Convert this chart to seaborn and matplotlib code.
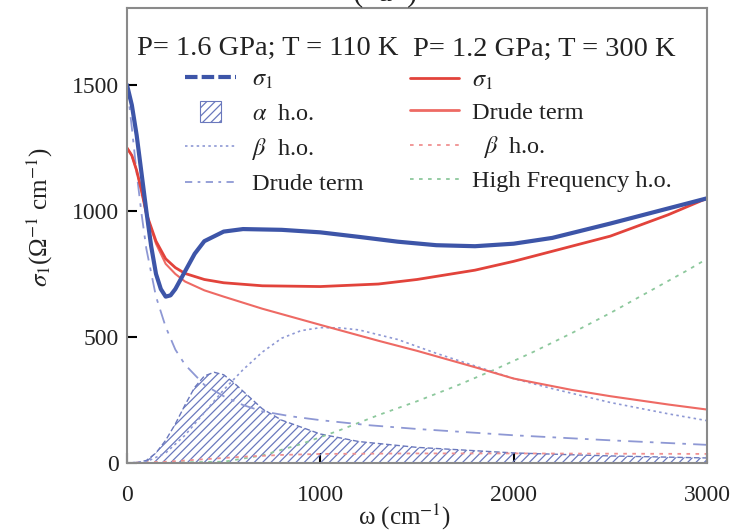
import numpy as np
import pandas as pd
import matplotlib
matplotlib.use("Agg")
import matplotlib.pyplot as plt
import seaborn as sns
from matplotlib.lines import Line2D
from matplotlib.patches import Patch, Rectangle
from matplotlib.legend_handler import HandlerPatch

# ---------------- data ----------------
x_b_s1 = [0, 25, 50, 75, 100, 125, 150, 175, 200, 225, 250, 300, 350, 400, 500, 600,
          800, 1000, 1200, 1400, 1600, 1800, 2000, 2200, 2500, 2800, 3000]
y_b_s1 = [1500, 1420, 1300, 1150, 1000, 860, 750, 690, 660, 665, 690, 760, 830, 880, 918, 928,
          925, 915, 897, 878, 864, 860, 870, 893, 950, 1010, 1050]

x_b_alpha = [0, 50, 100, 150, 200, 250, 300, 350, 400, 450, 500, 550, 600, 700, 800, 1000,
             1200, 1500, 2000, 2500, 3000]
y_b_alpha = [0, 2, 10, 40, 90, 155, 230, 300, 345, 360, 350, 320, 285, 215, 170, 115,
             85, 62, 40, 28, 20]

x_b_beta = [0, 100, 200, 300, 400, 500, 600, 700, 800, 900, 1000, 1100, 1200, 1400, 1600,
            1800, 2000, 2200, 2500, 2800, 3000]
y_b_beta = [0, 5, 40, 110, 200, 290, 370, 440, 495, 525, 537, 536, 528, 490, 435,
            385, 335, 295, 240, 195, 168]

x_b_drude = [0, 25, 50, 75, 100, 150, 200, 250, 300, 400, 500, 600, 700, 850, 1000, 1250,
             1500, 2000, 2500, 3000]
y_b_drude = [1500, 1330, 1150, 990, 850, 660, 540, 450, 390, 310, 265, 230, 205, 185, 170, 150,
             135, 110, 90, 72]

x_r = [0, 25, 50, 75, 100, 150, 200, 250, 300, 400, 500, 700, 1000, 1300, 1500, 1800,
       2000, 2300, 2500, 2800, 3000]
y_r_s1 = [1250, 1220, 1160, 1080, 990, 880, 810, 775, 752, 728, 715, 703, 700, 710, 728, 765,
          800, 860, 900, 985, 1050]
y_r_drude = [1250, 1220, 1160, 1080, 990, 870, 790, 750, 720, 685, 660, 612, 548, 485, 445, 380,
             335, 290, 265, 232, 212]

x_r_beta = [0, 200, 400, 600, 800, 1000, 1500, 2000, 2500, 3000]
y_r_beta = [0, 5, 15, 25, 32, 36, 38, 38, 37, 36]

x_r_hf = [0, 500, 700, 900, 1100, 1300, 1500, 1700, 1900, 2100, 2300, 2500, 2700, 2900, 3000]
y_r_hf = [0, 5, 30, 75, 130, 190, 245, 305, 370, 440, 515, 595, 680, 765, 810]

title_left = "P= 1.6 GPa; T = 110 K"
title_right = "P= 1.2 GPa; T = 300 K"
labels_left = [r"$\sigma_1$", r"$\alpha$  h.o.", r"$\beta$  h.o.", "Drude term"]
labels_right = [r"$\sigma_1$", "Drude term", r"  $\beta$  h.o.", "High Frequency h.o."]
x_ticks = [0, 1000, 2000, 3000]
y_ticks = [0, 500, 1000, 1500]

# ---------------- style ----------------
sns.set_theme(style="white")
plt.rcParams["font.family"] = ["Liberation Serif", "DejaVu Serif"]
plt.rcParams["mathtext.fontset"] = "stix"

c_blue = "#3d55a8"
c_blue_l = "#8e98d4"
c_hatch = "#6a78bd"
c_red = "#e2433b"
c_red_l = "#ee6a64"
c_red_dot = "#f09090"
c_green = "#8cc89c"
c_text = "#222222"

fig = plt.figure(figsize=(7.35, 5.32), dpi=100)
ax = fig.add_axes([127 / 735, 69 / 532, 580 / 735, 455 / 532])

# hatched alpha oscillator
plt.rcParams["hatch.color"] = c_hatch
plt.rcParams["hatch.linewidth"] = 0.9
ax.fill_between(x_b_alpha, 0, y_b_alpha, facecolor="none", edgecolor=c_hatch,
                hatch="////", linewidth=0)
sns.lineplot(x=x_b_alpha, y=y_b_alpha, ax=ax, color=c_hatch, lw=1.0,
             linestyle=(0, (4, 2)))

sns.lineplot(x=x_r_hf, y=y_r_hf, ax=ax, color=c_green, lw=1.3, linestyle=(0, (2, 3)))
sns.lineplot(x=x_r_beta, y=y_r_beta, ax=ax, color=c_red_dot, lw=1.3, linestyle=(0, (2, 3)))
sns.lineplot(x=x_b_drude, y=y_b_drude, ax=ax, color=c_blue_l, lw=1.3,
             linestyle=(0, (8, 4, 2, 4)))
sns.lineplot(x=x_b_beta, y=y_b_beta, ax=ax, color=c_blue_l, lw=1.2, linestyle=(0, (1.5, 2)))
sns.lineplot(x=x_r, y=y_r_drude, ax=ax, color=c_red_l, lw=1.5)
sns.lineplot(x=x_r, y=y_r_s1, ax=ax, color=c_red, lw=2.0)
sns.lineplot(x=x_b_s1, y=y_b_s1, ax=ax, color=c_blue, lw=3.0)

ax.set_xlim(0, 3000)
ax.set_ylim(0, 1805)
ax.set_xticks(x_ticks)
ax.set_yticks(y_ticks)
ax.tick_params(axis="both", direction="in", length=7, width=1.5, color="black",
               labelsize=17, labelcolor=c_text, left=True, bottom=True)
ax.tick_params(axis="x", pad=16)
ax.tick_params(axis="y", pad=6)
for s in ax.spines.values():
    s.set_color("#8a8a8a")
    s.set_linewidth(1.5)

ax.set_ylabel(r"$\sigma_1$(Ω$^{-1}$ cm$^{-1}$)", fontsize=18, color=c_text)
ax.yaxis.set_label_coords(-0.124, 0.54)
ax.set_xlabel(r"ω (cm$^{-1}$)", fontsize=18, color=c_text)
ax.xaxis.set_label_coords(0.478, -0.085)

# legend titles
ax.text(0.0172, 0.912, title_left, transform=ax.transAxes, fontsize=20.5,
        color=c_text, va="center", ha="left")
ax.text(0.493, 0.908, title_right, transform=ax.transAxes, fontsize=20.5,
        color=c_text, va="center", ha="left")


def small_square(legend, orig_handle, xdescent, ydescent, width, height, fontsize):
    s = height * 1.1
    return Rectangle((-xdescent + (width - s) / 2, -ydescent + (height - s) / 2), s, s)


h_left = [
    Line2D([], [], color=c_blue, lw=3.0, linestyle=(0, (3, 1))),
    Patch(facecolor="none", edgecolor=c_hatch, hatch="////", linewidth=0.8),
    Line2D([], [], color=c_blue_l, lw=1.2, linestyle=(0, (1.5, 2))),
    Line2D([], [], color=c_blue_l, lw=1.3, linestyle=(0, (4, 3, 1.5, 3))),
]
h_right = [
    Line2D([], [], color=c_red, lw=2.0),
    Line2D([], [], color=c_red_l, lw=2.0),
    Line2D([], [], color=c_red_dot, lw=1.3, linestyle=(0, (2, 3))),
    Line2D([], [], color=c_green, lw=1.3, linestyle=(0, (2, 3))),
]
leg1 = ax.legend(h_left, labels_left, loc="upper left", bbox_to_anchor=(0.10, 0.868),
                 frameon=False, fontsize=17.5, handlelength=2.1, handletextpad=0.65,
                 labelspacing=0.45, borderaxespad=0, borderpad=0,
                 handleheight=0.8,
                 handler_map={Patch: HandlerPatch(patch_func=small_square)})
for t in leg1.get_texts():
    t.set_color(c_text)
ax.add_artist(leg1)
leg2 = ax.legend(h_right, labels_right, loc="upper left", bbox_to_anchor=(0.488, 0.865),
                 frameon=False, fontsize=17.5, handlelength=2.0, handletextpad=0.55,
                 labelspacing=0.42, borderaxespad=0, borderpad=0)
for t in leg2.get_texts():
    t.set_color(c_text)

# clipped panel label at the very top (cut off in the original too)
fig.text(385 / 735, 1.013, "(  a  )", fontsize=22, ha="center", va="center",
         color=c_text)

fig.savefig("out.png", dpi=100)
